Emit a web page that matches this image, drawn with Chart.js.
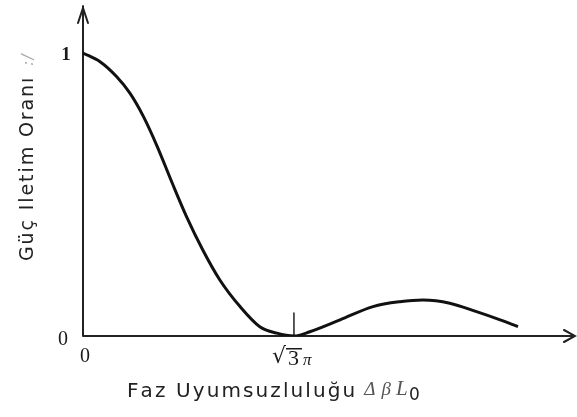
<!DOCTYPE html>
<html>
<head>
<meta charset="utf-8">
<script src="https://cdn.jsdelivr.net/npm/chart.js@4.4.0/dist/chart.umd.min.js"></script>
<style>
  html, body { margin: 0; padding: 0; background: #fff; }
  #wrap { width: 577px; height: 417px; }
</style>
</head>
<body>
<div id="wrap"><canvas id="chart" width="577" height="417"></canvas></div>
<script>
// phase mismatch (Δβ·L0) and power transfer ratio
const mismatch = [0, 0.44, 0.87, 1.21, 1.56, 1.91, 2.29, 2.67, 3.09, 3.53, 4.05, 4.56, 5.00, 5.44,
  5.85, 6.63, 7.48, 8.17, 8.77, 9.46, 10.15, 10.76, 11.22];
const transfer = [1.0, 0.969, 0.916, 0.858, 0.775, 0.671, 0.544, 0.422, 0.304, 0.198, 0.104, 0.033, 0.010, 0,
  0.015, 0.057, 0.104, 0.121, 0.127, 0.116, 0.086, 0.057, 0.033];

const yTicks = [0, 1];
const yTickLabels = ["0", "1"];
const xTicks = [0, 5.441];
const xTickLabels = ["0", "√3π"];

const yTitle = "Güç Iletim Oranı";
const yTitleSymbol = ":/";
const xTitle = "Faz Uyumsuzluluğu";

const ink = "#1a1a1a";

function spacedText(ctx, text, x, y, spacing) {
  for (const ch of text) {
    ctx.fillText(ch, x, y);
    x += ctx.measureText(ch).width + spacing;
  }
  return x - spacing;
}

const axesPlugin = {
  id: "arrowAxes",
  beforeDatasetsDraw(chart) {
    const ctx = chart.ctx;
    const xs = chart.scales.x, ys = chart.scales.y;
    const x0 = xs.getPixelForValue(0), y0 = ys.getPixelForValue(0);
    const top = chart.chartArea.top, right = chart.chartArea.right;

    ctx.save();
    ctx.strokeStyle = "#222";
    ctx.lineWidth = 2;
    ctx.lineCap = "round";
    ctx.beginPath();
    // vertical axis with arrow
    ctx.moveTo(x0, y0); ctx.lineTo(x0, top);
    ctx.moveTo(x0 - 5, top + 17); ctx.lineTo(x0, top + 2); ctx.lineTo(x0 + 5, top + 17);
    // horizontal axis with arrow
    ctx.moveTo(x0, y0); ctx.lineTo(right, y0);
    ctx.moveTo(right - 11, y0 - 6); ctx.lineTo(right, y0); ctx.lineTo(right - 11, y0 + 6);
    ctx.stroke();

    // upright tick at the first zero
    const xt = xs.getPixelForValue(xTicks[1]);
    ctx.lineWidth = 1.5;
    ctx.beginPath();
    ctx.moveTo(xt, y0); ctx.lineTo(xt, y0 - 23);
    ctx.stroke();
    ctx.restore();
  },
  afterDraw(chart) {
    const ctx = chart.ctx;
    const xs = chart.scales.x, ys = chart.scales.y;
    const x0 = xs.getPixelForValue(0);
    const y0 = ys.getPixelForValue(0);
    ctx.save();
    ctx.fillStyle = ink;
    ctx.textBaseline = "middle";

    // y tick labels
    ctx.textAlign = "center";
    ctx.font = "bold 19px 'Liberation Serif'";
    ctx.fillText(yTickLabels[1], x0 - 17, ys.getPixelForValue(yTicks[1]) + 2);
    ctx.font = "20px 'Liberation Serif'";
    ctx.fillText(yTickLabels[0], x0 - 20, y0 + 4);

    // x tick labels
    ctx.fillText(xTickLabels[0], xs.getPixelForValue(xTicks[0]) + 2, y0 + 21);
    const xt = xs.getPixelForValue(xTicks[1]);
    ctx.textAlign = "left";
    ctx.font = "22px 'DejaVu Sans'";
    ctx.fillText("√", xt - 22, y0 + 21);
    ctx.font = "22px 'Liberation Serif'";
    ctx.fillText("3", xt - 6, y0 + 23);
    ctx.fillRect(xt - 8, y0 + 12, 16, 1.5);
    ctx.font = "italic 17px 'Liberation Serif'";
    ctx.fillText("π", xt + 9, y0 + 25);

    // x title
    ctx.textBaseline = "alphabetic";
    ctx.font = "20px 'DejaVu Sans'";
    ctx.fillStyle = "#222";
    let cx = spacedText(ctx, xTitle, 127, 397, 2.1);
    cx += 9;
    ctx.fillStyle = "#555";
    ctx.font = "italic 19px 'Liberation Serif'";
    cx = spacedText(ctx, "Δβ", cx, 395, 6);
    ctx.font = "italic 21px 'Liberation Serif'";
    ctx.fillText("L", cx + 5, 395);
    ctx.fillStyle = "#222";
    ctx.font = "17px 'DejaVu Sans'";
    ctx.fillText("0", cx + 18, 400);

    // y title, rotated
    ctx.translate(33, 261);
    ctx.rotate(-Math.PI / 2);
    ctx.font = "19px 'DejaVu Sans'";
    ctx.fillStyle = "#222";
    let cy = spacedText(ctx, yTitle, 0, 0, 1.9);
    ctx.fillStyle = "#aaa";
    ctx.font = "italic 15px 'DejaVu Sans'";
    spacedText(ctx, yTitleSymbol, cy + 12, 0, 1);
    ctx.restore();
  }
};

new Chart(document.getElementById("chart"), {
  type: "line",
  data: {
    datasets: [{
      data: mismatch.map((x, i) => ({ x: x, y: transfer[i] })),
      borderColor: "#111",
      borderWidth: 3,
      pointRadius: 0,
      cubicInterpolationMode: "monotone",
      fill: false
    }]
  },
  options: {
    responsive: false,
    animation: false,
    layout: { padding: { left: 83, right: 2, top: 6, bottom: 81 } },
    plugins: { legend: { display: false }, tooltip: { enabled: false } },
    scales: {
      x: { type: "linear", min: 0, max: 12.69, display: false },
      y: { min: 0, max: 1.166, display: false }
    }
  },
  plugins: [axesPlugin]
});
</script>
</body>
</html>
